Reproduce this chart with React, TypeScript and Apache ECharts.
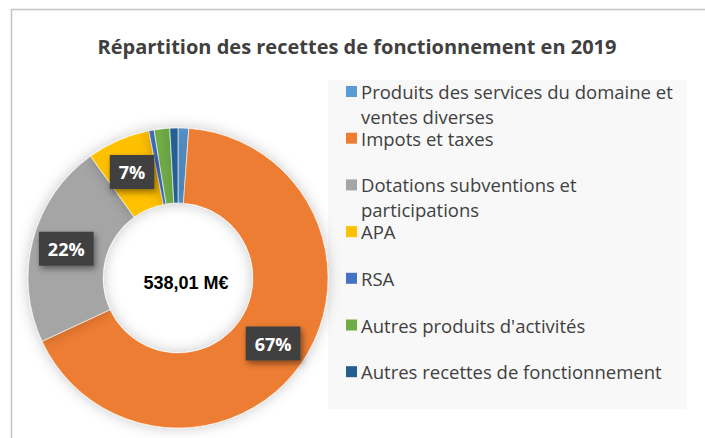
import React, { useEffect, useRef } from "react";
import * as echarts from "echarts";

const TITLE = "Répartition des recettes de fonctionnement en 2019";
const TOTAL_LABEL = "538,01 M€";
const categories = [
  "Produits des services du domaine et ventes diverses",
  "Impots et taxes",
  "Dotations subventions et participations",
  "APA",
  "RSA",
  "Autres produits d'activités",
  "Autres recettes de fonctionnement",
];
const legendLines: string[][] = [
  ["Produits des services du domaine et", "ventes diverses"],
  ["Impots et taxes"],
  ["Dotations subventions et", "participations"],
  ["APA"],
  ["RSA"],
  ["Autres produits d'activités"],
  ["Autres recettes de fonctionnement"],
];
const values = [6.2, 360.0, 118.5, 36.5, 3.1, 9.0, 4.7]; // M€
const colors = ["#5b9bd5", "#ed7d31", "#a5a5a5", "#ffc000", "#4472c4", "#70ad47", "#255e91"];

export default function App() {
  const ref = useRef<HTMLDivElement>(null);
  useEffect(() => {
    if (!ref.current) return;
    const chart = echarts.init(ref.current, undefined, { renderer: "svg" });
    const total = values.reduce((a, b) => a + b, 0);
    const rich: any = {
      t: { fontFamily: "Open Sans", fontSize: 18.5, color: "#404040", lineHeight: 24.5, padding: [0, 0, 0, 4] },
      sp: { width: 11, height: 11 },
    };
    colors.forEach((c, i) => {
      rich["m" + i] = { width: 11, height: 11, backgroundColor: c };
    });
    const fmtLegend = (name: string) => {
      const i = categories.indexOf(name);
      const lines = legendLines[i];
      const l1 = `{m${i}|}{t|${lines[0]}}`;
      const l2 = lines[1] ? `{sp|}{t|${lines[1]}}` : `{sp|}{t| }`;
      return l1 + "\n" + l2;
    };
    chart.setOption({
      animation: false,
      backgroundColor: "#ffffff",
      color: colors,
      title: {
        text: TITLE,
        left: 357,
        textAlign: "center",
        top: 35,
        padding: 0,
        textStyle: { fontFamily: "Open Sans", fontSize: 20, fontWeight: "bold", color: "#404040", lineHeight: 22 },
      },
      graphic: [
        {
          type: "polyline",
          z: 0,
          shape: { points: [[11.5, 438], [11.5, 9.5], [705, 9.5]] },
          style: { stroke: "#c4c4c4", lineWidth: 1.5, fill: "none" },
        },
        {
          type: "rect",
          z: 0,
          shape: { x: 328, y: 80, width: 359, height: 329 },
          style: { fill: "#f8f8f8" },
        },
        {
          type: "text",
          z: 10,
          x: 186,
          y: 283,
          style: {
            text: TOTAL_LABEL,
            fontFamily: "Liberation Sans",
            fontSize: 18,
            fontWeight: "bold",
            fill: "#000000",
            align: "center",
            verticalAlign: "middle",
          },
        },
      ],
      legend: {
        orient: "vertical",
        left: 345,
        top: 79.5,
        padding: 0,
        itemGap: -1.8,
        itemWidth: 0,
        itemHeight: 46.5,
        selectedMode: false,
        icon: "rect",
        itemStyle: { opacity: 0 },
        data: categories,
        formatter: fmtLegend,
        textStyle: { rich, padding: [0, 0, 0, -5] },
      },
      series: [
        {
          type: "pie",
          center: [178, 278],
          radius: [75, 150],
          startAngle: 90,
          clockwise: true,
          avoidLabelOverlap: false,
          itemStyle: {
            borderColor: "#ffffff",
            borderWidth: 0.6,
            shadowBlur: 14,
            shadowColor: "rgba(0,0,0,0.22)",
          },
          label: {
            position: "inside",
            formatter: (p: any) => Math.round(p.percent) + "%",
            fontFamily: "Open Sans",
            fontSize: 18,
            fontWeight: "bold",
            color: "#ffffff",
            backgroundColor: "#404040",
            padding: [6, 9],
            lineHeight: 22,
            shadowBlur: 6,
            shadowColor: "rgba(0,0,0,0.45)",
            shadowOffsetX: 2,
            shadowOffsetY: 3,
          },
          labelLine: { show: false },
          emphasis: { disabled: true },
          data: categories.map((name, i) => ({
            name,
            value: values[i],
            label: { show: values[i] / total > 0.05 },
          })),
        },
      ],
    });
    return () => chart.dispose();
  }, []);
  return <div ref={ref} style={{ position: "fixed", left: 0, top: 0, width: 705, height: 438 }} />;
}
